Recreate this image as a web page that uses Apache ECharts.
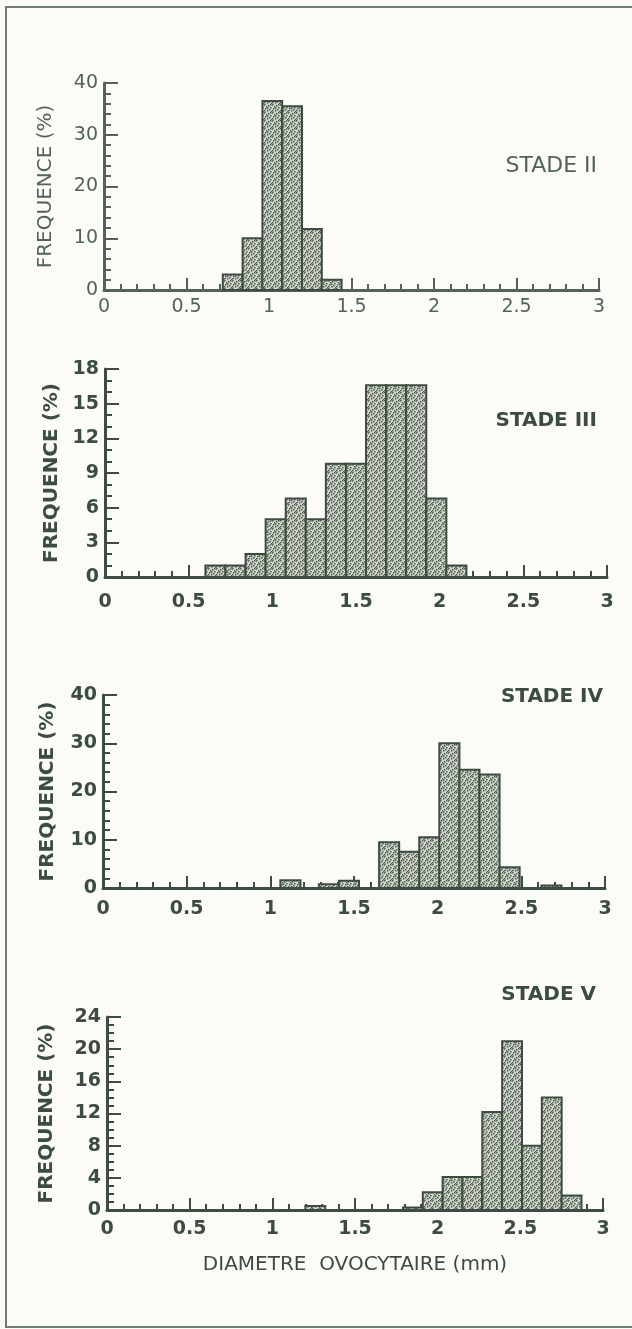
<!DOCTYPE html>
<html>
<head>
<meta charset="utf-8">
<script src="https://cdn.jsdelivr.net/npm/echarts@6/dist/echarts.min.js"></script>
<style>
html,body{margin:0;padding:0;background:#fbfbf8;}
#c{width:632px;height:1329px;}
</style>
</head>
<body>
<div id="c"></div>
<script>
// ---- data ----
const BIN_WIDTH = 0.12; // mm
const xTicks = [0, 0.5, 1, 1.5, 2, 2.5, 3];

const stade2Starts = [0.72, 0.84, 0.96, 1.08, 1.20, 1.32];
const stade2Values = [3, 10, 36.5, 35.5, 11.8, 2];

const stade3Starts = [0.60, 0.72, 0.84, 0.96, 1.08, 1.20, 1.32, 1.44, 1.56, 1.68, 1.80, 1.92, 2.04];
const stade3Values = [1, 1, 2, 5, 6.8, 5, 9.8, 9.8, 16.6, 16.6, 16.6, 6.8, 1];

const stade4Starts = [1.06, 1.29, 1.41, 1.65, 1.77, 1.89, 2.01, 2.13, 2.25, 2.37, 2.62];
const stade4Values = [1.6, 0.8, 1.5, 9.5, 7.5, 10.5, 30, 24.5, 23.5, 4.3, 0.5];

const stade5Starts = [1.20, 1.79, 1.91, 2.03, 2.15, 2.27, 2.39, 2.51, 2.63, 2.75];
const stade5Values = [0.5, 0.3, 2.2, 4.1, 4.1, 12.2, 21, 8, 14, 1.8];

const panelTitles = ['STADE II', 'STADE III', 'STADE IV', 'STADE V'];
const yMax = [40, 18, 40, 24];
const yStep = [10, 3, 10, 4];
const yMinorSplit = [5, 3, 5, 4];
const yName = 'FREQUENCE (%)';
const xName = 'DIAMETRE  OVOCYTAIRE (mm)';

// ---- styling ----
const INK = '#3d4c41';
const INK_LIGHT = '#536358';

function makePattern(){
  const c = document.createElement('canvas');
  c.width = 8; c.height = 8;
  const g = c.getContext('2d');
  g.fillStyle = '#d2d6ca';
  g.fillRect(0,0,8,8);
  g.fillStyle = '#4a5a50';
  const dots = [[0,0],[4,1],[2,2],[6,3],[1,4],[5,5],[3,6],[7,7],[6,0],[0,6],[3,3.5]];
  dots.forEach(d => { g.fillRect(d[0], d[1], 1.5, 1.5); });
  return {image: c, repeat: 'repeat'};
}
const pattern = makePattern();

const grids = [
  {left: 104, top: 83,   width: 495, height: 207},
  {left: 105, top: 369,  width: 502, height: 208},
  {left: 103, top: 695,  width: 502, height: 193},
  {left: 107, top: 1017, width: 496, height: 193}
];
const labelMargin = [8, 16, 12, 10];
const nameGap = [48, 43, 45, 50];
const bold = ['normal', 'bold', 'bold', 'bold'];
const inkByPanel = [INK_LIGHT, INK, INK, INK];

const allStarts = [stade2Starts, stade3Starts, stade4Starts, stade5Starts];
const allValues = [stade2Values, stade3Values, stade4Values, stade5Values];

const xAxes = grids.map((g, i) => ({
  gridIndex: i, type: 'value', min: 0, max: 3, interval: 0.5,
  axisLine: {lineStyle: {color: inkByPanel[i], width: 3}},
  axisTick: {inside: true, length: 12, lineStyle: {color: inkByPanel[i], width: 2}},
  minorTick: {show: true, splitNumber: 5, length: 6, lineStyle: {color: inkByPanel[i], width: 2}},
  splitLine: {show: false},
  axisLabel: {margin: labelMargin[i], color: inkByPanel[i], fontSize: 19, fontFamily: 'DejaVu Sans', fontWeight: bold[i],
    formatter: v => (xTicks.indexOf(v) >= 0 ? String(v) : '')},
  name: i === 3 ? xName : '', nameLocation: 'middle', nameGap: 45,
  nameTextStyle: {color: INK, fontSize: 20, fontFamily: 'DejaVu Sans', fontWeight: 'normal'}
}));

const yAxes = grids.map((g, i) => ({
  gridIndex: i, type: 'value', min: 0, max: yMax[i], interval: yStep[i],
  axisLine: {show: true, lineStyle: {color: inkByPanel[i], width: 3}},
  axisTick: {show: true, inside: true, length: 14, lineStyle: {color: inkByPanel[i], width: 2}},
  minorTick: {show: true, splitNumber: yMinorSplit[i], length: 7, lineStyle: {color: inkByPanel[i], width: 2}},
  splitLine: {show: false},
  axisLabel: {margin: 6, color: inkByPanel[i], fontSize: 19, fontFamily: 'DejaVu Sans', fontWeight: bold[i]},
  name: yName, nameLocation: 'middle', nameRotate: 90, nameGap: nameGap[i],
  nameTextStyle: {color: inkByPanel[i], fontSize: 20, fontFamily: 'DejaVu Sans', fontWeight: bold[i]}
}));

const series = allStarts.map((starts, i) => ({
  type: 'custom', xAxisIndex: i, yAxisIndex: i, z: 3,
  data: starts.map((s, k) => [s, allValues[i][k]]),
  renderItem: function(params, api){
    const x0 = api.value(0), v = api.value(1);
    const pTop = api.coord([x0, v]);
    const pBot = api.coord([x0 + BIN_WIDTH, 0]);
    return {
      type: 'rect',
      shape: {x: pTop[0], y: pTop[1], width: pBot[0] - pTop[0], height: pBot[1] - pTop[1]},
      style: {fill: pattern, stroke: INK, lineWidth: 2}
    };
  }
}));

const titlePos = [[597, 166], [597, 421], [603, 697], [596, 995]];
const titleSize = [22, 20, 20, 20];
const graphics = [
  {type: 'rect', shape: {x: 6, y: 7, width: 640, height: 1320}, style: {fill: 'none', stroke: '#6f7e70', lineWidth: 2}, z: 0}
].concat(panelTitles.map((t, i) => ({
  type: 'text', x: titlePos[i][0], y: titlePos[i][1], z: 10,
  style: {text: t, fill: inkByPanel[i], font: (bold[i] === 'bold' ? 'bold ' : '') + titleSize[i] + 'px "DejaVu Sans"', textAlign: 'right', textVerticalAlign: 'middle'}
})));

const chart = echarts.init(document.getElementById('c'), null, {renderer: 'canvas'});
chart.setOption({
  backgroundColor: '#fbfbf8',
  animation: false,
  grid: grids,
  xAxis: xAxes,
  yAxis: yAxes,
  series: series,
  graphic: graphics
});
</script>
</body>
</html>
